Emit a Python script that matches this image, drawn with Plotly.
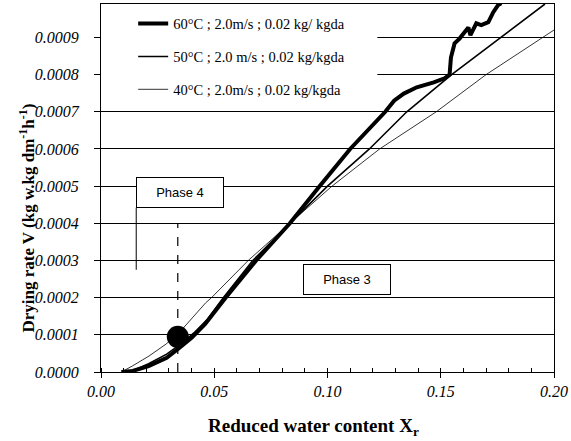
import plotly.graph_objects as go

# ---- data ----
x60 = [0.009, 0.014, 0.021, 0.029, 0.034, 0.040, 0.046, 0.055, 0.0685, 0.0834, 0.0965, 0.110,
       0.1255, 0.1294, 0.1337, 0.1394, 0.1469, 0.1517, 0.1539, 0.1545, 0.1561, 0.1583, 0.1605,
       0.1622, 0.1631, 0.1657, 0.1679, 0.171, 0.1732, 0.1753, 0.1767]
y60 = [0.0, 0.000003, 0.000016, 0.000038, 0.000062, 0.000092, 0.000129, 0.0002, 0.0003, 0.0004,
       0.0005, 0.0006, 0.0007, 0.00073, 0.000749, 0.000766, 0.000779, 0.00079, 0.0008, 0.000846,
       0.000884, 0.000897, 0.000914, 0.000927, 0.000906, 0.000938, 0.000933, 0.000941, 0.000968,
       0.000987, 0.000992]

x50 = [0.010, 0.015, 0.021, 0.029, 0.035, 0.041, 0.047, 0.054, 0.067, 0.0834, 0.100, 0.1185,
       0.135, 0.1548, 0.1775, 0.196]
y50 = [0.0, 0.000006, 0.000022, 0.000048, 0.000074, 0.000105, 0.000142, 0.0002, 0.0003, 0.0004,
       0.0005, 0.0006, 0.0007, 0.0008, 0.000905, 0.00099]

x40 = [0.009, 0.0138, 0.0212, 0.0287, 0.0344, 0.040, 0.0462, 0.0488, 0.065, 0.0834, 0.102,
       0.123, 0.148, 0.170, 0.1985, 0.200]
y40 = [0.0, 0.000016, 0.000043, 0.000075, 0.000105, 0.000143, 0.000186, 0.0002, 0.0003, 0.0004,
       0.0005, 0.0006, 0.0007, 0.0008, 0.000914, 0.00092]

names = ["60°C ; 2.0m/s ; 0.02 kg/ kgda",
         "50°C ; 2.0 m/s ; 0.02 kg/kgda",
         "40°C ; 2.0m/s ; 0.02 kg/kgda"]

dot_x = [0.0339]
dot_y = [0.0000945]

phase_labels = ["Phase 4", "Phase 3"]
phase_x = [0.035, 0.1088]
phase_y = [0.000484, 0.000248]

y_ticks = [0.0000, 0.0001, 0.0002, 0.0003, 0.0004, 0.0005, 0.0006, 0.0007, 0.0008, 0.0009]
x_ticks = [0.00, 0.05, 0.10, 0.15, 0.20]

serif = "Liberation Serif, Times New Roman, serif"
sans = "Liberation Sans, Arial, sans-serif"

fig = go.Figure()
fig.add_trace(go.Scatter(x=x60, y=y60, mode="lines", name=names[0], legendgroup="a",
                         line=dict(color="black", width=4)))
fig.add_trace(go.Scatter(x=x50, y=y50, mode="lines", name=names[1], legendgroup="b",
                         line=dict(color="black", width=1.6)))
fig.add_trace(go.Scatter(x=x40, y=y40, mode="lines", name=names[2], legendgroup="c",
                         line=dict(color="black", width=0.8)))
fig.add_trace(go.Scatter(x=dot_x, y=dot_y, mode="markers", showlegend=False,
                         marker=dict(color="black", size=22)))

# white area behind legend (covers gridlines)
fig.add_shape(type="rect", xref="x", yref="y", x0=0, x1=0.122, y0=0.00073, y1=0.00099,
              fillcolor="white", line=dict(width=0), layer="between")
# dashed phase boundary
fig.add_shape(type="line", xref="x", yref="y", x0=dot_x[0], x1=dot_x[0], y0=0, y1=0.0004,
              line=dict(color="black", width=1.2, dash="dash"))
# leader line under Phase 4 box
fig.add_shape(type="line", xref="x", yref="y", x0=0.01555, x1=0.01555, y0=0.000442, y1=0.000275,
              line=dict(color="black", width=1))

for lab, px, py in zip(phase_labels, phase_x, phase_y):
    fig.add_annotation(x=px, y=py, xref="x", yref="y", text=lab, showarrow=False,
                       font=dict(family=sans, size=13, color="black"),
                       bgcolor="white", bordercolor="black", borderwidth=1,
                       width=84, height=27, borderpad=1)

# axis titles
fig.add_annotation(x=(315 - 101) / 457, y=-0.15, xref="paper", yref="paper",
                   xanchor="center", yanchor="middle",
                   text="<b>Reduced water content X<sub>r</sub></b>", showarrow=False,
                   font=dict(family=serif, size=19, color="black"))
fig.add_annotation(x=-0.163, y=(372 - 218) / 369, xref="paper", yref="paper",
                   xanchor="center", yanchor="middle",
                   text="<b>Drying rate V (kg w.kg dm<sup>-1</sup>h<sup>-1</sup>)</b>", showarrow=False,
                   textangle=-90, font=dict(family=serif, size=17, color="black"))

fig.update_layout(
    width=571, height=441,
    margin=dict(l=101, r=13, t=3, b=69),
    paper_bgcolor="white", plot_bgcolor="white",
    showlegend=True,
    legend=dict(x=0.071, y=0.99, xanchor="left", yanchor="top", bgcolor="rgba(0,0,0,0)",
                font=dict(family=serif, size=14.5, color="black"), tracegroupgap=11),
)
fig.update_xaxes(range=[0, 0.2], tickvals=x_ticks, ticktext=[f"<i>{v:.2f}</i>" for v in x_ticks],
                 showgrid=False, zeroline=False, showline=True, linecolor="black", linewidth=1.2,
                 mirror=True, ticks="outside", ticklen=5, tickcolor="black",
                 ticklabeloverflow="allow",
                 tickfont=dict(family=serif, size=16, color="black"),
                 minor=dict(dtick=0.01, tick0=0, ticks="inside", ticklen=4, tickcolor="black",
                            showgrid=False))
fig.update_yaxes(range=[0, 0.00099], tickvals=y_ticks, ticktext=[f"<i>{v:.4f}</i>" for v in y_ticks],
                 showgrid=True, gridcolor="black", gridwidth=1.3, zeroline=False,
                 showline=True, linecolor="black", linewidth=1.2, mirror=True,
                 ticks="outside", ticklen=6, tickcolor="black", ticklabelstandoff=12,
                 tickfont=dict(family=serif, size=16, color="black"))

fig.write_html("out.html")
